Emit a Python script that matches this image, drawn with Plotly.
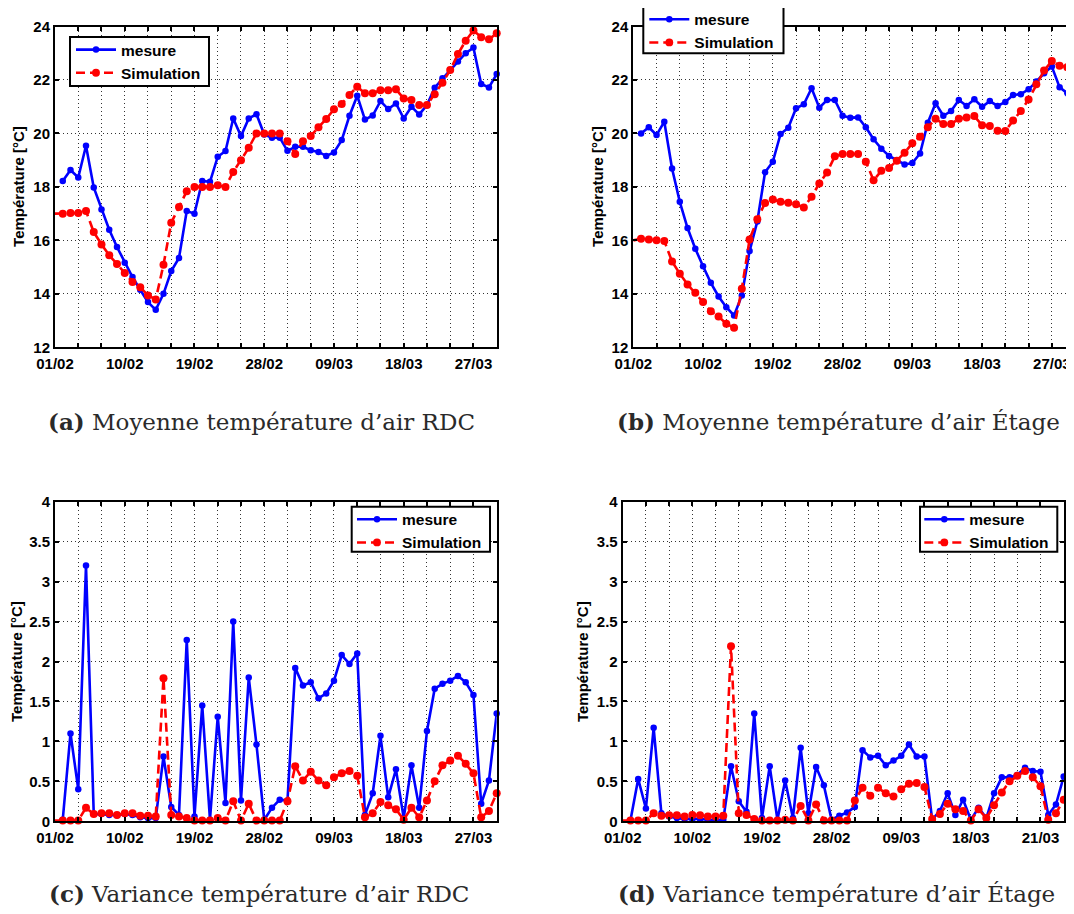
import plotly.graph_objects as go
import pandas as pd

# ---------------- data ----------------
dates_simulation = pd.date_range("2013-02-01", "2013-03-30", freq="D")   # 58 days
dates_mesure = dates_simulation[1:]                                         # 57 days

tick_labels_abc = ["01/02", "10/02", "19/02", "28/02", "09/03", "18/03", "27/03"]
tick_labels_d = ["01/02", "10/02", "19/02", "28/02", "09/03", "18/03", "21/03"]

series_names = ["mesure", "Simulation"]
y_title = "Température [°C]"
captions = [
    ("(a)", "Moyenne température d’air RDC"),
    ("(b)", "Moyenne température d’air Étage"),
    ("(c)", "Variance température d’air RDC"),
    ("(d)", "Variance température d’air Étage"),
]

moy_rdc_mesure = [18.22, 18.63, 18.35, 19.54, 17.98, 17.15, 16.4, 15.75, 15.16, 14.63,
                  14.15, 13.69, 13.4, 14.0, 14.85, 15.34, 17.1, 17.0, 18.22, 18.19,
                  19.13, 19.34, 20.56, 19.9, 20.56, 20.72, 19.96, 19.84, 19.84, 19.35,
                  19.5, 19.5, 19.37, 19.31, 19.16, 19.29, 19.75, 20.66, 21.41, 20.52,
                  20.67, 21.21, 20.91, 21.12, 20.56, 21.0, 20.71, 21.06, 21.71, 22.06,
                  22.37, 22.69, 23.0, 23.21, 21.85, 21.72, 22.22]
moy_rdc_simulation = [17.0, 17.0, 17.02, 17.02, 17.1, 16.31, 15.85, 15.44, 15.12, 14.78,
                      14.44, 14.25, 13.94, 13.79, 15.09, 16.66, 17.25, 17.84, 18.0, 18.0,
                      18.0, 18.06, 18.0, 18.56, 19.0, 19.46, 20.0, 20.0, 20.0, 20.0,
                      19.71, 19.23, 19.71, 19.9, 20.23, 20.54, 20.9, 21.1, 21.44, 21.75,
                      21.5, 21.5, 21.62, 21.62, 21.65, 21.31, 21.25, 21.06, 21.06, 21.47,
                      21.9, 22.37, 22.97, 23.47, 23.85, 23.6, 23.52, 23.75]

moy_etage_mesure = [20.0, 20.23, 19.94, 20.44, 18.69, 17.44, 16.46, 15.69, 15.03, 14.41,
                    13.9, 13.5, 13.19, 13.94, 15.6, 16.71, 18.55, 18.94, 19.98, 20.21,
                    20.94, 21.09, 21.69, 20.96, 21.25, 21.25, 20.66, 20.59, 20.6, 20.23,
                    19.78, 19.43, 19.16, 19.0, 18.84, 18.89, 19.25, 20.4, 21.13, 20.66,
                    20.84, 21.25, 21.03, 21.28, 21.0, 21.21, 21.03, 21.18, 21.44, 21.47,
                    21.65, 21.94, 22.25, 22.5, 21.73, 21.5, 21.8]
moy_etage_simulation = [16.0, 16.06, 16.03, 16.0, 15.98, 15.21, 14.75, 14.35, 14.04, 13.69,
                        13.35, 13.15, 12.88, 12.73, 14.19, 16.03, 16.79, 17.4, 17.53, 17.44,
                        17.41, 17.35, 17.23, 17.63, 18.13, 18.54, 19.15, 19.23, 19.23, 19.23,
                        18.94, 18.25, 18.6, 18.71, 18.98, 19.28, 19.63, 19.88, 20.23, 20.55,
                        20.35, 20.35, 20.55, 20.6, 20.65, 20.31, 20.28, 20.1, 20.09, 20.48,
                        20.84, 21.27, 21.84, 22.35, 22.71, 22.53, 22.48, 22.71]

var_rdc_mesure = [0.02, 1.1, 0.4, 3.2, 0.09, 0.09, 0.08, 0.075, 0.09, 0.08,
                  0.05, 0.04, 0.04, 0.81, 0.18, 0.08, 2.27, 0.06, 1.45, 0.02,
                  1.31, 0.23, 2.5, 0.26, 1.8, 0.96, 0.02, 0.17, 0.27, 0.26,
                  1.92, 1.7, 1.74, 1.54, 1.6, 1.76, 2.08, 1.97, 2.1, 0.08,
                  0.35, 1.07, 0.3, 0.65, 0.04, 0.7, 0.17, 1.13, 1.66, 1.72,
                  1.76, 1.82, 1.74, 1.58, 0.22, 0.51, 1.35]
var_rdc_simulation = [0.01, 0.01, 0.01, 0.01, 0.17, 0.09, 0.1, 0.1, 0.08, 0.1,
                      0.1, 0.07, 0.07, 0.06, 1.79, 0.08, 0.06, 0.04, 0.01, 0.01,
                      0.01, 0.04, 0.01, 0.25, 0.01, 0.22, 0.01, 0.01, 0.01, 0.01,
                      0.25, 0.69, 0.51, 0.62, 0.51, 0.45, 0.55, 0.6, 0.63, 0.57,
                      0.05, 0.1, 0.24, 0.2, 0.15, 0.02, 0.17, 0.05, 0.26, 0.5,
                      0.7, 0.76, 0.82, 0.72, 0.6, 0.05, 0.13, 0.35]

var_etage_mesure = [0.01, 0.53, 0.16, 1.17, 0.1, 0.06, 0.04, 0.03, 0.03, 0.03,
                    0.02, 0.02, 0.02, 0.69, 0.25, 0.12, 1.35, 0.04, 0.69, 0.02,
                    0.51, 0.04, 0.92, 0.1, 0.68, 0.45, 0.02, 0.07, 0.11, 0.18,
                    0.89, 0.8, 0.82, 0.7, 0.76, 0.82, 0.96, 0.81, 0.81, 0.02,
                    0.13, 0.35, 0.08, 0.27, 0.02, 0.17, 0.04, 0.35, 0.55, 0.55,
                    0.58, 0.67, 0.63, 0.62, 0.08, 0.21, 0.56]
var_etage_simulation = [0.01, 0.01, 0.01, 0.01, 0.1, 0.07, 0.075, 0.075, 0.06, 0.08,
                        0.075, 0.06, 0.06, 0.07, 2.19, 0.1, 0.08, 0.03, 0.01, 0.01,
                        0.01, 0.02, 0.01, 0.19, 0.01, 0.21, 0.01, 0.01, 0.01, 0.01,
                        0.26, 0.42, 0.32, 0.42, 0.35, 0.31, 0.4, 0.47, 0.48, 0.43,
                        0.03, 0.09, 0.22, 0.15, 0.13, 0.01, 0.15, 0.04, 0.2, 0.36,
                        0.5, 0.57, 0.63, 0.55, 0.44, 0.02, 0.1, 0.27]

# ---------------- layout helpers ----------------
OFF = 8                       # page body margin
W, H = 1074 - OFF, 914 - OFF  # figure fills the rest of the window
BLUE, RED = "#0000FF", "#FF0000"
SANS = "Liberation Sans, Arial, sans-serif"
SERIF = "DejaVu Serif, serif"


def px_x(v):
    return min(1.0, (v - OFF) / W)


def px_y(v):
    return 1 - (v - OFF) / H


panels = [
    dict(m=moy_rdc_mesure, s=moy_rdc_simulation, xd=(55, 496.7), yd=(26.5, 347.3),
         yr=(12, 24), dt=2, labels=tick_labels_abc, box=(70, 37, 209, 86), anc="left",
         ytx=19, xend=57),
    dict(m=moy_etage_mesure, s=moy_etage_simulation, xd=(633.3, 1074), yd=(26.5, 347.3),
         yr=(12, 24), dt=2, labels=tick_labels_abc, box=(643.3, 6.7, 783.5, 53.3), anc="left",
         ytx=598, xend=56.86),
    dict(m=var_rdc_mesure, s=var_rdc_simulation, xd=(55, 496.7), yd=(501.7, 821.3),
         yr=(0, 4), dt=0.5, labels=tick_labels_abc, box=(351.7, 506.7, 490, 551.7), anc="right",
         ytx=16.5, xend=57),
    dict(m=var_etage_mesure, s=var_etage_simulation, xd=(622.7, 1063.7), yd=(501.7, 821.3),
         yr=(0, 4), dt=0.5, labels=tick_labels_d, box=(920, 506.7, 1057.3, 551.7), anc="right",
         ytx=582.6, xend=57),
]

fig = go.Figure()
layout = dict(
    width=W, height=H, margin=dict(l=0, r=0, t=0, b=0, autoexpand=False),
    paper_bgcolor="white", plot_bgcolor="white", showlegend=True,
    annotations=[], shapes=[],
)

tickvals = dates_simulation[::3]
start = dates_simulation[0]

for i, p in enumerate(panels):
    k = "" if i == 0 else str(i + 1)
    xa, ya = "x" + k, "y" + k
    leg = "legend" + k
    sim_sizes = [0] + [8] * (len(p["s"]) - 1)
    fig.add_trace(go.Scatter(
        x=dates_mesure, y=p["m"], xaxis=xa, yaxis=ya, name=series_names[0], legend=leg,
        mode="lines+markers", line=dict(color=BLUE, width=2.6),
        marker=dict(color=BLUE, size=6.5, line=dict(width=0)), cliponaxis=False))
    fig.add_trace(go.Scatter(
        x=dates_simulation, y=p["s"], xaxis=xa, yaxis=ya, name=series_names[1], legend=leg,
        mode="lines+markers", line=dict(color=RED, width=2.6, dash="9px,5px"),
        marker=dict(color=RED, size=sim_sizes, opacity=1, line=dict(width=0)), cliponaxis=False))

    ticktext = [p["labels"][j // 3] if j % 3 == 0 else "" for j in range(len(tickvals))]
    xend = start + pd.Timedelta(days=p["xend"])
    layout["xaxis" + k] = dict(
        domain=[px_x(p["xd"][0]), px_x(p["xd"][1])], anchor=ya, automargin=False,
        range=[start, xend], tickmode="array", tickvals=list(tickvals), ticktext=ticktext,
        showline=True, linecolor="black", linewidth=2, mirror="ticks",
        ticks="inside", ticklen=4, tickwidth=1.5, tickcolor="black",
        showgrid=True, gridcolor="#333333", gridwidth=1, griddash="1px,3px",
        zeroline=False, tickangle=0, ticklabelstandoff=2,
        tickfont=dict(family=SANS, size=15, color="black", weight="bold"))
    layout["yaxis" + k] = dict(
        domain=[px_y(p["yd"][1]), px_y(p["yd"][0])], anchor=xa, automargin=False,
        range=list(p["yr"]), dtick=p["dt"], tick0=0,
        showline=True, linecolor="black", linewidth=2, mirror="ticks",
        ticks="inside", ticklen=4, tickwidth=1.5, tickcolor="black",
        showgrid=True, gridcolor="#333333", gridwidth=1, griddash="1px,3px",
        zeroline=False,
        tickfont=dict(family=SANS, size=15, color="black", weight="bold"))

    # legend frame (drawn as a shape so its size matches the original box)
    bx0, by0, bx1, by1 = p["box"]
    layout["shapes"].append(dict(
        type="rect", xref="paper", yref="paper", layer="above",
        x0=px_x(bx0), x1=px_x(bx1), y0=px_y(by1), y1=px_y(by0),
        line=dict(color="black", width=2), fillcolor="white"))
    lx = bx0 + 1 if p["anc"] == "left" else bx1 - 3
    layout[leg] = dict(
        x=px_x(lx), y=px_y(by0 - 4), xanchor=p["anc"], yanchor="top",
        xref="paper", yref="paper",
        bgcolor="rgba(0,0,0,0)", borderwidth=0,
        font=dict(family=SANS, size=15.5, color="black", weight="bold"),
        itemwidth=40, tracegroupgap=0)
    layout["annotations"].append(dict(
        x=px_x(p["ytx"]), y=px_y((p["yd"][0] + p["yd"][1]) / 2), xref="paper", yref="paper",
        text=y_title, textangle=-90, showarrow=False, xanchor="center", yanchor="middle",
        font=dict(family=SANS, size=15, color="black", weight="bold")))

caption_pos = [(261, 421), (838, 421), (259, 893), (836, 893)]
for (lab, txt), (cx, cy) in zip(captions, caption_pos):
    layout["annotations"].append(dict(
        x=px_x(cx), y=px_y(cy), xref="paper", yref="paper",
        text="<b>" + lab + "</b> " + txt, showarrow=False, xanchor="center", yanchor="middle",
        font=dict(family=SERIF, size=23, color="#2a2a2a")))

fig.update_layout(**layout)
fig.write_html("out.html")
